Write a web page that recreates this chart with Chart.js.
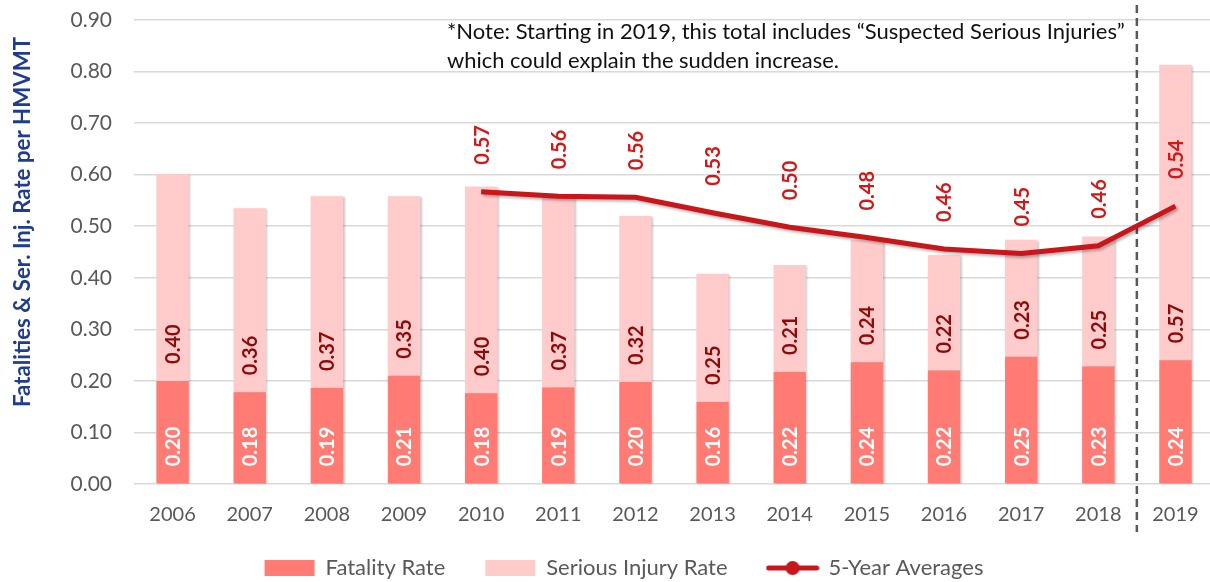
<!DOCTYPE html>
<html>
<head>
<meta charset="utf-8">
<script src="https://cdn.jsdelivr.net/npm/chart.js@4.4.1/dist/chart.umd.min.js"></script>
<style>
  html, body { margin: 0; padding: 0; background: #fff; overflow: hidden; }
  #wrap { position: relative; width: 1222px; height: 589px; }
</style>
</head>
<body>
<div id="wrap"><canvas id="rateChart"></canvas></div>
<script>
const years = ['2006','2007','2008','2009','2010','2011','2012','2013','2014','2015','2016','2017','2018','2019'];
const fatalityRate = [0.20, 0.178, 0.186, 0.21, 0.176, 0.187, 0.198, 0.159, 0.217, 0.236, 0.22, 0.247, 0.228, 0.24];
const seriousInjuryRate = [0.401, 0.357, 0.372, 0.348, 0.401, 0.372, 0.322, 0.249, 0.208, 0.237, 0.224, 0.227, 0.252, 0.573];
const fiveYearAvg = [null, null, null, null, 0.567, 0.558, 0.556, 0.526, 0.498, 0.478, 0.456, 0.447, 0.462, 0.539];
const yTicks = [0, 0.9, 0.1];
const noteLines = ['*Note: Starting in 2019, this total includes \u201cSuspected Serious Injuries\u201d', 'which could explain the sudden increase.'];
const yTitle = 'Fatalities & Ser. Inj. Rate per HMVMT';

const fontFam = 'Lato';
const gray = '#595959';
const lineRed = '#C8161B';

// little line+dot picture for the legend
const lineIcon = document.createElement('canvas');
lineIcon.width = 54; lineIcon.height = 18;
(function(){
  const c = lineIcon.getContext('2d');
  c.strokeStyle = lineRed; c.lineWidth = 5; c.lineCap = 'round';
  c.beginPath(); c.moveTo(3, 9); c.lineTo(51, 9); c.stroke();
  c.fillStyle = lineRed;
  c.beginPath(); c.arc(27, 9, 7, 0, Math.PI * 2); c.fill();
})();

const extras = {
  id: 'extras',
  beforeDatasetsDraw(chart) {
    const ctx = chart.ctx, x = chart.scales.x;
    const xs = (x.getPixelForValue(12) + x.getPixelForValue(13)) / 2;
    ctx.save();
    ctx.strokeStyle = gray; ctx.lineWidth = 2.5;
    ctx.setLineDash([8, 5]);
    ctx.beginPath(); ctx.moveTo(xs, 5); ctx.lineTo(xs, 532); ctx.stroke();
    ctx.restore();
  },
  beforeDatasetDraw(chart, args) {
    const ctx = chart.ctx;
    ctx.save();
    if (args.meta.type === 'bar') {
      ctx.shadowColor = 'rgba(0,0,0,0.22)';
      ctx.shadowOffsetX = 1.5; ctx.shadowOffsetY = 1; ctx.shadowBlur = 2;
    } else {
      ctx.shadowColor = 'rgba(0,0,0,0.3)';
      ctx.shadowOffsetX = 2; ctx.shadowOffsetY = 2; ctx.shadowBlur = 3;
    }
  },
  afterDatasetDraw(chart) { chart.ctx.restore(); },
  afterDatasetsDraw(chart) {
    const ctx = chart.ctx;
    ctx.save();
    ctx.textAlign = 'left';
    ctx.textBaseline = 'middle';
    ctx.font = 'bold 20px ' + fontFam;
    const colors = ['#ffffff', '#8E0A0A'];
    [0, 1].forEach(di => {
      const meta = chart.getDatasetMeta(di);
      const vals = chart.data.datasets[di].data;
      meta.data.forEach((el, i) => {
        ctx.save();
        ctx.translate(el.x, el.base - 17);
        ctx.rotate(-Math.PI / 2);
        ctx.fillStyle = colors[di];
        ctx.fillText(vals[i].toFixed(2), 0, 1);
        ctx.restore();
      });
    });
    const lm = chart.getDatasetMeta(2);
    const lv = chart.data.datasets[2].data;
    lm.data.forEach((el, i) => {
      if (lv[i] == null) return;
      ctx.save();
      ctx.translate(el.x, el.y - 27);
      ctx.rotate(-Math.PI / 2);
      ctx.fillStyle = '#D01A1A';
      ctx.fillText(lv[i].toFixed(2), 0, 1);
      ctx.restore();
    });
    ctx.restore();
  },
  afterDraw(chart) {
    const ctx = chart.ctx;
    ctx.save();
    ctx.fillStyle = '#111';
    ctx.font = '22px ' + fontFam;
    ctx.textAlign = 'left';
    ctx.textBaseline = 'middle';
    ctx.fillText(noteLines[0], 447, 32, 690);
    ctx.fillText(noteLines[1], 447, 61, 392);
    // axis title
    ctx.translate(23, 222);
    ctx.rotate(-Math.PI / 2);
    ctx.textAlign = 'center';
    ctx.font = 'bold 23px ' + fontFam;
    ctx.fillStyle = '#1F3C91';
    ctx.fillText(yTitle, 0, 0, 370);
    ctx.restore();
  }
};

new Chart(document.getElementById('rateChart'), {
  type: 'bar',
  data: {
    labels: years,
    datasets: [
      {
        label: 'Fatality Rate',
        data: fatalityRate,
        backgroundColor: '#FF7B73',
        borderWidth: 0,
        stack: 'rates',
        order: 2,
        pointStyle: 'rect'
      },
      {
        label: 'Serious Injury Rate',
        data: seriousInjuryRate,
        backgroundColor: '#FFCCCB',
        borderWidth: 0,
        stack: 'rates',
        order: 2,
        pointStyle: 'rect'
      },
      {
        type: 'line',
        label: '5-Year Averages',
        data: fiveYearAvg,
        borderColor: lineRed,
        backgroundColor: lineRed,
        borderWidth: 5,
        tension: 0,
        pointRadius: 0,
        pointHoverRadius: 0,
        pointStyle: lineIcon,
        stack: 'avg',
        order: 1
      }
    ]
  },
  options: {
    responsive: true,
    maintainAspectRatio: false,
    animation: false,
    layout: { padding: { top: 20, right: 8, left: 34, bottom: 0 } },
    datasets: { bar: { barPercentage: 0.42, categoryPercentage: 1 } },
    plugins: {
      tooltip: { enabled: false },
      legend: {
        position: 'bottom',
        labels: {
          usePointStyle: true,
          pointStyleWidth: 50,
          boxHeight: 16,
          color: gray,
          padding: 29,
          font: { family: fontFam, size: 22 },
          sort: (a, b) => a.datasetIndex - b.datasetIndex,
          generateLabels(chart) {
            const items = Chart.defaults.plugins.legend.labels.generateLabels(chart);
            items.forEach(it => { if (it.datasetIndex < 2) it.text += '\u2002'; });
            return items;
          }
        }
      }
    },
    scales: {
      x: {
        stacked: true,
        grid: { display: false, drawTicks: false },
        border: { display: false },
        ticks: { color: gray, padding: 19, font: { family: fontFam, size: 20 } },
        afterFit(s) { s.height = 44; }
      },
      y: {
        stacked: true,
        min: yTicks[0],
        max: yTicks[1],
        grid: { color: '#D9D9D9', lineWidth: 1.5, drawTicks: false },
        border: { display: false },
        ticks: {
          stepSize: yTicks[2],
          color: gray,
          padding: 22,
          font: { family: fontFam, size: 21 },
          callback: v => Number(v).toFixed(2)
        },
        afterFit(s) { s.width = 100; s.paddingTop = 0; s.paddingBottom = 0; }
      }
    }
  },
  plugins: [extras]
});
</script>
</body>
</html>
